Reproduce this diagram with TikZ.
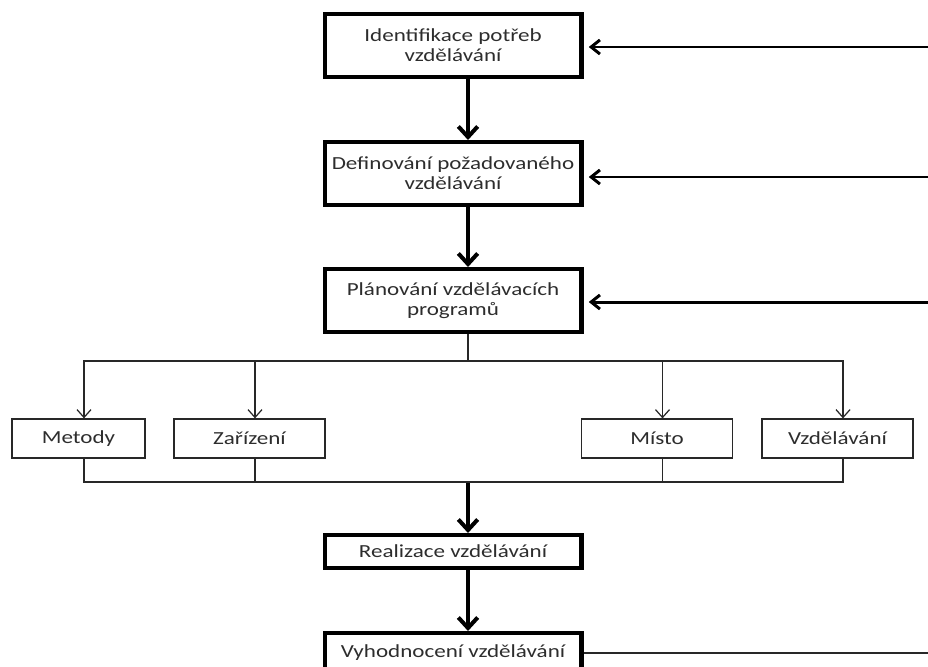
\documentclass[tikz,border=0pt]{standalone}
\usepackage{fontspec}
\setmainfont{Carlito}[FakeStretch=1.25]
\usepackage{tikz}
\usetikzlibrary{arrows.meta,positioning,calc}
\usepackage{xcolor}
\definecolor{textgray}{RGB}{45,45,45}
\definecolor{linegray}{RGB}{40,40,40}

\begin{document}
\begin{tikzpicture}[x=0.02cm, y=-0.02cm,
    mainbox/.style={rectangle, draw=black, line width=2.3pt, minimum width=5.14cm,
                minimum height=1.26cm, align=center, text=textgray,
                font=\fontsize{10.5}{11.4}\selectfont, inner sep=1pt},
    subbox/.style={rectangle, draw=linegray, line width=0.7pt, minimum width=3.02cm,
                minimum height=0.78cm, text=textgray, font=\fontsize{10.5}{11.4}\selectfont},
    thickarrow/.style={line width=2.3pt, -{Straight Barb[length=6pt,width=11pt]}},
    feedarrow/.style={line width=1.7pt, -{Straight Barb[length=5pt,width=8pt]}, shorten >=3pt},
    thinarrow/.style={draw=linegray, line width=0.7pt, -{Straight Barb[length=4.5pt,width=8pt]}},
    thinline/.style={draw=linegray, line width=0.7pt},
]
\useasboundingbox (0,0) rectangle (928,666);
\clip (0,0) rectangle (928,666);

% main flow
\node[mainbox] (ident) at (453, 45.5) {Identifikace potřeb\\vzdělávání};
\node[mainbox] (defin) at (453, 173.5) {Definování požadovaného\\vzdělávání};
\node[mainbox] (plan) at (453, 300.5) {Plánování vzdělávacích\\programů};
\node[mainbox, minimum height=0.66cm] (real) at (453, 551.5) {Realizace vzdělávání};
\node[mainbox, minimum height=0.8cm] (vyhod) at (453, 653) {Vyhodnocení vzdělávání};

% branches
\node[subbox, minimum width=2.66cm] (metody) at (78.5, 438.5) {Metody};
\node[subbox] (zarizeni) at (249.5, 438.5) {Zařízení};
\node[subbox] (misto) at (657, 438.5) {Místo};
\node[subbox] (vzdel) at (837.5, 438.5) {Vzdělávání};

% helper points
\coordinate (spine) at (468, 0);
\coordinate (split) at (468, 361);
\coordinate (join) at (468, 482);
\coordinate (fb1) at (932, 47);
\coordinate (fb2) at (932, 177);
\coordinate (fb3) at (932, 302);
\coordinate (fb4) at (932, 653);

% thick arrows down
\draw[thickarrow] (ident.south -| spine) -- (defin.north -| spine);
\draw[thickarrow] (defin.south -| spine) -- (plan.north -| spine);
\draw[thickarrow] (join) -- (real.north -| spine);
\draw[thickarrow] (real.south -| spine) -- (vyhod.north -| spine);

% split and join
\draw[thinline] (plan.south -| spine) -- (split);
\foreach \n in {metody,zarizeni,misto,vzdel} {
  \draw[thinarrow] (split) -| ([xshift=0.11cm]\n.north);
  \draw[thinline] ([xshift=0.11cm]\n.south) |- (join);
}

% feedback from the right
\draw[feedarrow] (fb1) -- (fb1 -| ident.east);
\draw[feedarrow] (fb2) -- (fb2 -| defin.east);
\draw[feedarrow] (fb3) -- (fb3 -| plan.east);
\draw[thinline] (vyhod.east |- fb4) -- (fb4);

\end{tikzpicture}
\end{document}
